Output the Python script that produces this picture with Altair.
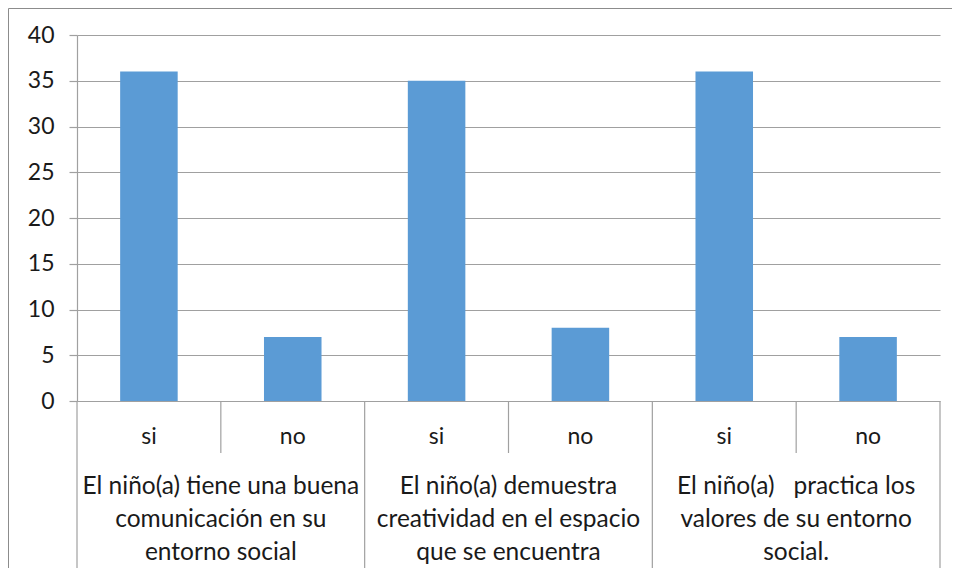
import altair as alt
import pandas as pd

groups = [
    "El niño(a) tiene una buena\ncomunicación en su\nentorno social",
    "El niño(a) demuestra\ncreatividad en el espacio\nque se encuentra",
    "El niño(a)\u00a0\u00a0 practica los\nvalores de su entorno\nsocial.",
]
answers = ["si", "no"]
values = [[36, 7], [35, 8], [36, 7]]
y_ticks = [0, 5, 10, 15, 20, 25, 30, 35, 40]

FONT = "Lato"
FS = 23
FS_GRP = 24.5
GRAY = "#a0a0a0"
TXT = "#1a1a1a"
W, H = 863, 366

rows = []
for gi, g in enumerate(groups):
    for ai, a in enumerate(answers):
        rows.append({"key": f"{gi}-{a}", "answer": a, "value": values[gi][ai]})
df = pd.DataFrame(rows)
keys = list(df["key"])

n_slots = len(groups) * len(answers)
grp_df = pd.DataFrame({"label": groups,
                       "center": [len(answers) * i + len(answers) / 2 for i in range(len(groups))]})
long_df = pd.DataFrame({"pos": [len(answers) * i for i in range(len(groups) + 1)]})
short_df = pd.DataFrame({"pos": [len(answers) * i + j for i in range(len(groups)) for j in range(1, len(answers))]})

xband = alt.X("key:N", sort=keys, axis=None,
              scale=alt.Scale(paddingInner=0.6, paddingOuter=0.3))
qscale = alt.Scale(domain=[0, n_slots], nice=False, zero=False)

bars = alt.Chart(df).mark_bar(color="#5b9bd5").encode(
    x=xband,
    y=alt.Y("value:Q", title=None,
            scale=alt.Scale(domain=[0, 40], nice=False),
            axis=alt.Axis(values=y_ticks, grid=True, gridColor=GRAY, gridWidth=1.2,
                          domainColor=GRAY, domainWidth=1.2, tickColor=GRAY, tickWidth=1.2,
                          tickSize=8, labelFont=FONT, labelFontSize=FS, labelColor=TXT,
                          labelPadding=15)),
)

sub = alt.Chart(df).mark_text(font=FONT, fontSize=FS, color=TXT, baseline="middle", align="center").encode(
    x=xband, y=alt.value(H + 35.5), text="answer:N")

grp = alt.Chart(grp_df).mark_text(font=FONT, fontSize=FS_GRP, color=TXT, baseline="middle", align="center",
                                  lineBreak="\n", lineHeight=33).encode(
    x=alt.X("center:Q", scale=qscale, axis=None), y=alt.value(H + 86), text="label:N")

short_sep = alt.Chart(short_df).mark_rule(color=GRAY, strokeWidth=1.2).encode(
    x=alt.X("pos:Q", scale=qscale, axis=None), y=alt.value(H), y2=alt.value(H + 52))

long_sep = alt.Chart(long_df).mark_rule(color=GRAY, strokeWidth=1.2).encode(
    x=alt.X("pos:Q", scale=qscale, axis=None), y=alt.value(H), y2=alt.value(H + 175))

frame = alt.Chart(pd.DataFrame({"a": [0]})).mark_rect(fillOpacity=0, stroke="#8c8c8c", strokeWidth=1).encode(
    x=alt.value(-68.5), x2=alt.value(W + 40), y=alt.value(-26.5), y2=alt.value(H + 250))

chart = alt.layer(frame, bars, sub, grp, short_sep, long_sep).resolve_scale(x="independent").properties(
    width=W, height=H,
    autosize=alt.AutoSizeParams(type="none"),
    padding={"left": 69, "top": 27, "right": 12, "bottom": 167},
    background="white",
).configure_view(strokeWidth=0)

chart.save("out.html", embed_options={"renderer": "svg", "actions": False})
